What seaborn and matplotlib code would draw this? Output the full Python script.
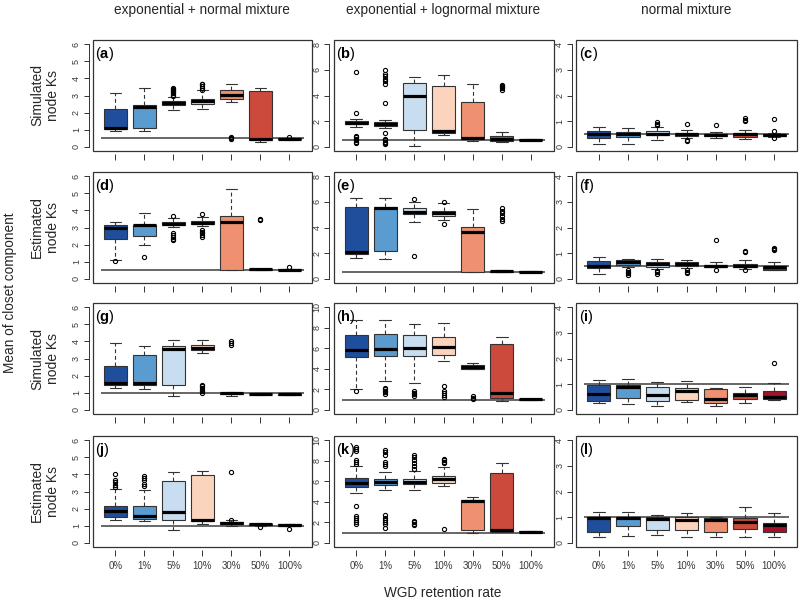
import matplotlib
matplotlib.use("Agg")
import matplotlib.pyplot as plt
from matplotlib.patches import Rectangle
import seaborn as sns

# ---------------- data ----------------
RATES = ["0%", "1%", "5%", "10%", "30%", "50%", "100%"]
BOX_COLORS = ["#1f4f9c", "#5a9bd0", "#c8ddef", "#fcd4be", "#ef9170", "#cb4a3c", "#a3122a"]
COL_TITLES = ["exponential + normal mixture", "exponential + lognormal mixture", "normal mixture"]
ROW_LABELS = ["Simulated\nnode Ks", "Estimated\nnode Ks", "Simulated\nnode Ks", "Estimated\nnode Ks"]
PANEL_LETTERS = ["a", "b", "c", "d", "e", "f", "g", "h", "i", "j", "k", "l"]
REF_LINE = [0.5, 0.5, 1.0, 1.0]          # horizontal reference value per row
Y_RANGE = [[6, 8, 4], [6, 8, 4], [6, 10, 4], [6, 10, 4]]
Y_STEP = [[1, 2, 1], [1, 2, 1], [1, 2, 1], [1, 2, 1]]

# (a)
A_LO = [0.94, 0.94, 2.16, 2.22, 2.60, 0.27, 0.43]
A_Q1 = [1.02, 1.10, 2.43, 2.50, 2.78, 0.40, 0.45]
A_MED = [1.10, 2.33, 2.55, 2.65, 3.05, 0.45, 0.47]
A_Q3 = [2.24, 2.43, 2.67, 2.80, 3.30, 3.25, 0.50]
A_HI = [3.12, 3.45, 2.90, 3.30, 3.65, 3.42, 0.53]
A_OUT = [[], [], [2.98, 3.05, 3.12, 3.18, 3.25, 3.32, 3.40, 3.45],
         [3.35, 3.45, 3.55, 3.65, 3.70], [0.45, 0.50, 0.55], [], [0.56]]
# (b)
B_LO = [1.57, 1.46, 0.05, 0.92, 0.47, 0.40, 0.50]
B_Q1 = [1.75, 1.65, 1.33, 1.10, 0.60, 0.47, 0.52]
B_MED = [1.88, 1.78, 3.97, 1.25, 0.73, 0.65, 0.55]
B_Q3 = [1.99, 1.93, 4.97, 4.76, 3.48, 0.84, 0.58]
B_HI = [2.17, 2.10, 5.44, 5.62, 4.92, 1.18, 0.62]
B_OUT = [[5.8, 2.67, 0.3, 0.4, 0.5, 0.6, 0.75, 0.85],
         [6.0, 5.7, 5.5, 5.3, 5.1, 4.9, 3.42, 1.12, 0.6, 0.5, 0.4, 0.3, 0.22],
         [], [], [], [4.45, 4.55, 4.65, 4.75, 4.85], []]
# (c)
C_LO = [0.13, 0.10, 0.26, 0.35, 0.34, 0.31, 0.40]
C_Q1 = [0.34, 0.37, 0.46, 0.44, 0.41, 0.37, 0.43]
C_MED = [0.50, 0.50, 0.52, 0.50, 0.47, 0.50, 0.48]
C_Q3 = [0.63, 0.59, 0.60, 0.56, 0.52, 0.55, 0.52]
C_HI = [0.76, 0.75, 0.78, 0.67, 0.59, 0.65, 0.56]
C_OUT = [[], [], [0.86, 0.90, 0.95], [0.89, 0.24, 0.28], [0.86],
         [1.0, 1.06, 1.12], [1.08, 0.63, 0.34]]
# (d)
D_LO = [1.13, 1.95, 3.02, 3.08, 0.49, 0.52, 0.50]
D_Q1 = [2.34, 2.53, 3.12, 3.18, 0.53, 0.53, 0.51]
D_MED = [2.96, 3.12, 3.22, 3.27, 3.31, 0.55, 0.53]
D_Q3 = [3.12, 3.16, 3.31, 3.37, 3.66, 0.56, 0.56]
D_HI = [3.35, 3.86, 3.55, 3.59, 5.22, 0.58, 0.60]
D_OUT = [[1.07], [1.25], [3.7, 2.25, 2.35, 2.45, 2.55, 2.65],
         [3.76, 2.45, 2.55, 2.65, 2.75, 2.85], [], [3.42, 3.52], [0.68]]
# (e)
E_LO = [1.65, 1.57, 4.39, 4.58, 0.52, 0.52, 0.52]
E_Q1 = [1.96, 2.20, 5.02, 4.92, 0.52, 0.55, 0.53]
E_MED = [2.09, 5.49, 5.23, 5.10, 3.66, 0.60, 0.55]
E_Q3 = [5.60, 5.62, 5.49, 5.28, 4.05, 0.65, 0.58]
E_HI = [6.27, 6.27, 6.00, 5.88, 5.41, 0.70, 0.60]
E_OUT = [[], [], [6.2, 1.78], [5.96, 4.26], [], [4.5, 4.7, 4.9, 5.1, 5.3, 5.5], []]
# (f)
F_LO = [0.20, 0.46, 0.39, 0.42, 0.46, 0.39, 0.35]
F_Q1 = [0.43, 0.55, 0.48, 0.50, 0.46, 0.46, 0.35]
F_MED = [0.52, 0.65, 0.59, 0.59, 0.50, 0.52, 0.46]
F_Q3 = [0.69, 0.72, 0.65, 0.65, 0.55, 0.59, 0.52]
F_HI = [0.85, 0.78, 0.78, 0.72, 0.65, 0.72, 0.65]
F_OUT = [[], [0.17, 0.22, 0.28, 0.33], [0.2, 0.25, 0.3], [0.22, 0.27, 0.33],
         [1.52, 0.33], [1.05, 1.1, 0.35], [1.13, 1.17, 1.21]]
# (g)
G_LO = [1.29, 1.24, 0.80, 3.35, 0.80, 0.88, 0.87]
G_Q1 = [1.45, 1.43, 1.43, 3.47, 0.90, 0.90, 0.88]
G_MED = [1.55, 1.59, 3.55, 3.63, 0.96, 0.92, 0.91]
G_Q3 = [2.57, 3.20, 3.71, 3.78, 1.00, 0.95, 0.95]
G_HI = [3.90, 3.75, 4.06, 4.10, 1.04, 0.97, 0.97]
G_OUT = [[], [], [], [0.98, 1.08, 1.18, 1.28, 1.38, 1.45], [3.78, 3.9, 4.05], [], []]
# (h)
H_LO = [2.03, 2.84, 2.58, 4.77, 3.94, 0.84, 0.98]
H_Q1 = [5.19, 5.29, 5.29, 5.35, 3.94, 1.13, 1.00]
H_MED = [5.81, 5.97, 6.06, 6.16, 4.19, 1.65, 1.03]
H_Q3 = [7.29, 7.35, 7.29, 7.13, 4.35, 6.39, 1.06]
H_HI = [8.71, 8.71, 8.32, 8.45, 4.52, 7.10, 1.08]
H_OUT = [[1.8], [1.55, 1.7, 1.85, 2.0, 2.13], [1.35, 1.5, 1.65, 1.8],
         [2.35, 1.3, 1.45, 1.6, 1.8], [1.06, 1.2, 1.35], [], []]
# (i)
I_LO = [0.25, 0.21, 0.14, 0.30, 0.14, 0.25, 0.38]
I_Q1 = [0.34, 0.47, 0.34, 0.38, 0.27, 0.41, 0.43]
I_MED = [0.61, 0.88, 0.58, 0.73, 0.41, 0.59, 0.51]
I_Q3 = [0.95, 0.95, 0.89, 0.86, 0.82, 0.67, 0.73]
I_HI = [1.16, 1.22, 1.08, 1.11, 0.86, 0.89, 1.05]
I_OUT = [[], [], [], [], [], [], [1.84]]
# (j)
J_LO = [1.33, 1.29, 0.74, 1.13, 0.99, 1.00, 1.00]
J_Q1 = [1.52, 1.40, 1.36, 1.29, 1.09, 1.05, 1.00]
J_MED = [1.87, 1.56, 1.81, 1.36, 1.17, 1.08, 1.05]
J_Q3 = [2.14, 2.16, 3.63, 3.96, 1.23, 1.12, 1.08]
J_HI = [3.12, 3.08, 4.15, 4.21, 1.33, 1.15, 1.10]
J_OUT = [[3.25, 3.4, 3.55, 3.7, 4.05], [3.3, 3.45, 3.7, 3.8, 3.9], [], [],
         [4.15, 1.36], [0.94], [0.82]]
# (k)
K_LO = [4.82, 5.14, 5.14, 5.53, 0.96, 1.05, 1.05]
K_Q1 = [5.46, 5.62, 5.69, 5.85, 1.28, 1.05, 1.05]
K_MED = [5.78, 5.88, 5.94, 6.17, 4.09, 1.21, 1.10]
K_Q3 = [6.29, 6.23, 6.26, 6.49, 4.19, 6.80, 1.15]
K_HI = [7.50, 6.87, 6.96, 7.35, 4.47, 7.76, 1.18]
K_OUT = [[7.7, 7.9, 8.1, 8.9, 9.1, 9.3, 3.55, 2.65, 2.4, 2.2, 2.0, 1.8],
         [7.5, 7.7, 7.9, 8.6, 8.8, 9.0, 2.72, 2.4, 2.2, 2.0, 1.8, 1.44],
         [7.2, 7.5, 7.8, 8.1, 8.35, 8.56, 2.17, 2.0, 1.85, 1.7],
         [7.76, 7.9, 8.05, 8.2, 1.37], [], [], []]
# (l)
L_LO = [0.21, 0.26, 0.32, 0.21, 0.21, 0.21, 0.21]
L_Q1 = [0.43, 0.66, 0.49, 0.49, 0.43, 0.56, 0.43]
L_MED = [0.95, 0.95, 0.92, 0.88, 0.88, 0.83, 0.69]
L_Q3 = [1.01, 1.01, 0.99, 0.99, 0.95, 0.95, 0.78]
L_HI = [1.21, 1.19, 1.10, 1.17, 1.01, 1.38, 1.17]
L_OUT = [[], [], [], [], [], [], []]

PANELS = [
    (A_LO, A_Q1, A_MED, A_Q3, A_HI, A_OUT), (B_LO, B_Q1, B_MED, B_Q3, B_HI, B_OUT),
    (C_LO, C_Q1, C_MED, C_Q3, C_HI, C_OUT), (D_LO, D_Q1, D_MED, D_Q3, D_HI, D_OUT),
    (E_LO, E_Q1, E_MED, E_Q3, E_HI, E_OUT), (F_LO, F_Q1, F_MED, F_Q3, F_HI, F_OUT),
    (G_LO, G_Q1, G_MED, G_Q3, G_HI, G_OUT), (H_LO, H_Q1, H_MED, H_Q3, H_HI, H_OUT),
    (I_LO, I_Q1, I_MED, I_Q3, I_HI, I_OUT), (J_LO, J_Q1, J_MED, J_Q3, J_HI, J_OUT),
    (K_LO, K_Q1, K_MED, K_Q3, K_HI, K_OUT), (L_LO, L_Q1, L_MED, L_Q3, L_HI, L_OUT),
]

# ---------------- style ----------------
sns.set_style("white")
plt.rcParams["font.family"] = ["Liberation Sans", "DejaVu Sans"]
plt.rcParams["mathtext.fontset"] = "custom"
plt.rcParams["mathtext.rm"] = "Liberation Sans"
plt.rcParams["mathtext.bf"] = "Liberation Sans:bold"
palette = sns.color_palette(BOX_COLORS)

W, H = 800, 603
fig = plt.figure(figsize=(W / 100, H / 100), dpi=100)

COL_X = [(92.7, 312.0), (333.5, 553.5), (576.0, 797.0)]
ROW_Y = [(40.0, 151.0), (172.0, 283.0), (303.0, 414.0), (436.0, 547.0)]
EDGE = "#333333"
TICKTXT = "#3a3a3a"


def rect(l, t, r, b):
    return [l / W, 1 - b / H, (r - l) / W, (b - t) / H]


n = len(RATES)
for r in range(4):
    for c in range(3):
        idx = r * 3 + c
        lo, q1, med, q3, hi, out = PANELS[idx]
        ax = fig.add_axes(rect(COL_X[c][0], ROW_Y[r][0], COL_X[c][1], ROW_Y[r][1]))
        ytop = Y_RANGE[r][c]

        # spines first (repositioning spines resets the ticks)
        for s in ["top", "right"]:
            ax.spines[s].set_visible(False)
        ax.spines["bottom"].set_position(("outward", 2))
        ax.spines["bottom"].set_visible(False)
        ax.spines["left"].set_position(("outward", 3))
        ax.spines["left"].set_bounds(0, ytop)
        ax.spines["left"].set_color(EDGE)
        ax.spines["left"].set_linewidth(0.7)

        stats = [dict(whislo=lo[k], q1=q1[k], med=med[k], q3=q3[k], whishi=hi[k],
                      fliers=out[k]) for k in range(n)]
        ax.hlines(REF_LINE[r], -0.5, n - 0.5, color="#4d4d4d", linewidth=1.2, zorder=1)
        bp = ax.bxp(stats, positions=list(range(n)), widths=0.8, capwidths=0.4,
                    patch_artist=True, showfliers=True, zorder=2, manage_ticks=False,
                    boxprops=dict(edgecolor=EDGE, linewidth=0.8),
                    medianprops=dict(color="black", linewidth=2.3, solid_capstyle="butt"),
                    whiskerprops=dict(color=EDGE, linewidth=0.8, linestyle=(0, (3.5, 2.5))),
                    capprops=dict(color=EDGE, linewidth=0.8),
                    flierprops=dict(marker="o", markersize=3.0, markerfacecolor="none",
                                    markeredgecolor="black", markeredgewidth=0.8,
                                    linestyle="none"))
        for patch, col in zip(bp["boxes"], palette):
            patch.set_facecolor(col)

        pad = 0.04 * ytop
        ax.set_ylim(-pad, ytop + pad)
        ax.set_xlim(-0.78, n - 1 + 0.78)
        ax.tick_params(axis="y", length=3.5, width=0.7, color=EDGE, pad=2, left=True,
                       labelsize=6.5, labelcolor=TICKTXT)
        ax.tick_params(axis="x", length=4, width=0.7, color=EDGE, pad=4, bottom=True,
                       labelsize=7, labelcolor=TICKTXT)
        yt = list(range(0, ytop + 1, Y_STEP[r][c]))
        ax.set_yticks(yt)
        ax.set_yticklabels([str(v) for v in yt], rotation=90, va="center", ha="right")
        ax.set_xticks(list(range(n)))
        if r == 3:
            ax.set_xticklabels(RATES)
        else:
            ax.set_xticklabels([])

        ax.add_patch(Rectangle((0, 0), 1, 1, transform=ax.transAxes, fill=False,
                               edgecolor=EDGE, linewidth=0.9, clip_on=False, zorder=5))
        ax.text(0.012, 0.955, r"($\mathbf{%s}$)" % PANEL_LETTERS[idx], transform=ax.transAxes,
                ha="left", va="top", fontsize=10.5, color="black")

# titles & labels
for c in range(3):
    cx = (COL_X[c][0] + COL_X[c][1]) / 2 / W
    fig.text(cx, 1 - 10 / H, COL_TITLES[c], ha="center", va="center", fontsize=9.8)
for r in range(4):
    cy = 1 - (ROW_Y[r][0] + ROW_Y[r][1]) / 2 / H
    fig.text(45 / W, cy, ROW_LABELS[r], ha="center", va="center", rotation=90,
             fontsize=10, linespacing=1.15)
fig.text(10 / W, 1 - 293 / H, "Mean of closet component", ha="center", va="center",
         rotation=90, fontsize=9.8)
fig.text(443 / W, 1 - 593 / H, "WGD retention rate", ha="center", va="center", fontsize=9.8)

fig.savefig("out.png", dpi=100)
